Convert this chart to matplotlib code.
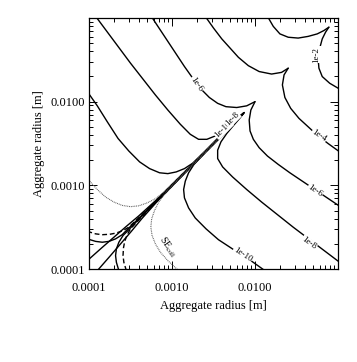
import matplotlib
matplotlib.use('Agg')
import matplotlib.pyplot as plt
import matplotlib.ticker as ticker
import numpy as np

plt.rcParams['font.family'] = ['Liberation Serif', 'DejaVu Serif']
plt.rcParams['mathtext.fontset'] = 'stix'

# upper branches (log10 of radius in m); the kernel is symmetric,
# so the lower branch is the same curve with the axes swapped
lx_2 = [-1.85, -1.78, -1.70, -1.60, -1.48, -1.36, -1.25, -1.17, -1.11]
ly_2 = [-0.98, -1.10, -1.19, -1.23, -1.24, -1.22, -1.19, -1.15, -1.11]

lx_4 = [-2.60, -2.50, -2.40, -2.30, -2.20, -2.08, -1.95, -1.80, -1.68, -1.60]
ly_4 = [-0.98, -1.12, -1.25, -1.36, -1.47, -1.57, -1.64, -1.67, -1.65, -1.60]

lx_6 = [-3.25, -3.15, -3.05, -2.95, -2.85, -2.75, -2.65, -2.55, -2.45, -2.35, -2.22, -2.10, -2.00]
ly_6 = [-0.98, -1.13, -1.28, -1.43, -1.58, -1.72, -1.85, -1.95, -2.02, -2.06, -2.07, -2.05, -2.00]

lx_8 = [-3.92, -3.80, -3.65, -3.50, -3.35, -3.20, -3.05, -2.90, -2.78, -2.68, -2.58, -2.48, -2.38,
        -2.28, -2.20, -2.13]
ly_8 = [-0.98, -1.14, -1.34, -1.54, -1.73, -1.92, -2.10, -2.27, -2.39, -2.45, -2.45, -2.41, -2.34,
        -2.255, -2.185, -2.13]

lx_10 = [-4.02, -3.90, -3.78, -3.65, -3.52, -3.39, -3.27, -3.15, -3.05, -2.95, -2.85, -2.75, -2.60,
         -2.45, -2.30, -2.15]
ly_10 = [-1.88, -2.05, -2.24, -2.44, -2.59, -2.72, -2.80, -2.85, -2.86, -2.84, -2.80, -2.735, -2.59,
         -2.44, -2.29, -2.15]

lx_se = [-4.02, -3.90, -3.80, -3.70, -3.60, -3.50, -3.40, -3.30, -3.20, -3.10, -2.95, -2.75, -2.50,
         -2.30, -2.18]
ly_se = [-2.92, -3.05, -3.14, -3.20, -3.24, -3.255, -3.245, -3.21, -3.16, -3.085, -2.94, -2.74, -2.49,
         -2.29, -2.175]

lx_dash = [-4.02, -3.92, -3.84, -3.75, -3.67, -3.59, -3.52, -3.44, -3.30, -3.10, -2.80, -2.50, -2.20]
ly_dash = [-3.55, -3.58, -3.59, -3.585, -3.57, -3.54, -3.50, -3.425, -3.29, -3.095, -2.795, -2.495,
           -2.195]

lx_in = [-4.02, -3.92, -3.84, -3.76, -3.68, -3.60, -3.52, -3.40, -3.20, -2.90, -2.60, -2.30, -2.16]
ly_in = [-3.64, -3.67, -3.68, -3.67, -3.64, -3.59, -3.51, -3.395, -3.195, -2.895, -2.595, -2.295,
         -2.155]

lx_diag = [-4.02, -3.85, -3.70, -3.55, -3.40, -3.20, -2.90, -2.60, -2.30, -2.14]
ly_diag = [-3.90, -3.75, -3.62, -3.49, -3.365, -3.185, -2.89, -2.595, -2.295, -2.135]

# contour labels: text, log10 x, log10 y, angle
labels = [
    ('1e-6', -2.70, -1.79, -55),
    ('1e-6', -1.28, -3.07, -34),
    ('1e-4', -1.23, -2.41, -33),
    ('1e-2', -1.26, -1.44, 90),
    ('1e-8', -1.35, -3.69, -36),
    ('1e-10', -2.15, -3.83, -33),
    ('1e-10', -2.38, -2.33, 45),
    ('1e-8', -2.27, -2.21, 45),
]

fig = plt.figure(figsize=(3.57, 3.62), dpi=100)
ax = fig.add_axes([0.2493, 0.2569, 0.6975, 0.6934])


def branch(lx, ly, **kw):
    x = 10 ** np.array(lx)
    y = 10 ** np.array(ly)
    ax.plot(x, y, **kw)
    ax.plot(y, x, **kw)


solid = dict(color='black', lw=1.0, solid_capstyle='round')
for lx, ly in [(lx_2, ly_2), (lx_4, ly_4), (lx_6, ly_6), (lx_8, ly_8), (lx_10, ly_10),
               (lx_in, ly_in), (lx_diag, ly_diag)]:
    branch(lx, ly, **solid)
branch(lx_dash, ly_dash, color='black', lw=1.0, dashes=(3.5, 2.0))
branch(lx_se, ly_se, color='0.35', lw=0.8, dashes=(0.8, 0.8))

for txt, x, y, rot in labels:
    ax.text(10 ** x, 10 ** y, txt, fontsize=6.5, rotation=rot, ha='center', va='center',
            rotation_mode='anchor',
            bbox=dict(fc='white', ec='none', pad=0.4))
ax.text(10 ** -3.05, 10 ** -3.74, r'SE$_{\rm coll}$', fontsize=7, rotation=-55,
        ha='center', va='center', rotation_mode='anchor',
        bbox=dict(fc='white', ec='none', pad=0.3))

ax.set_xscale('log')
ax.set_yscale('log')
ax.set_xlim(1e-4, 1e-1)
ax.set_ylim(1e-4, 1e-1)

major = [1e-4, 1e-3, 1e-2]
ticklab = ['0.0001', '0.0010', '0.0100']
ax.set_xticks(major)
ax.set_xticklabels(ticklab)
ax.set_yticks(major)
ax.set_yticklabels(ticklab)
ax.xaxis.set_minor_locator(ticker.LogLocator(base=10, subs=np.arange(2, 10), numticks=20))
ax.yaxis.set_minor_locator(ticker.LogLocator(base=10, subs=np.arange(2, 10), numticks=20))
ax.xaxis.set_minor_formatter(ticker.NullFormatter())
ax.yaxis.set_minor_formatter(ticker.NullFormatter())

ax.tick_params(which='both', direction='in', top=True, right=True, width=0.7, labelsize=9)
ax.tick_params(which='major', length=6)
ax.tick_params(which='minor', length=3)
ax.tick_params(axis='x', which='major', pad=9)
ax.tick_params(axis='y', which='major', pad=3)
for s in ax.spines.values():
    s.set_linewidth(0.9)

ax.set_xlabel('Aggregate radius [m]', fontsize=9, labelpad=5)
ax.set_ylabel('Aggregate radius [m]', fontsize=9, labelpad=4)

fig.savefig('out.png', dpi=100)
